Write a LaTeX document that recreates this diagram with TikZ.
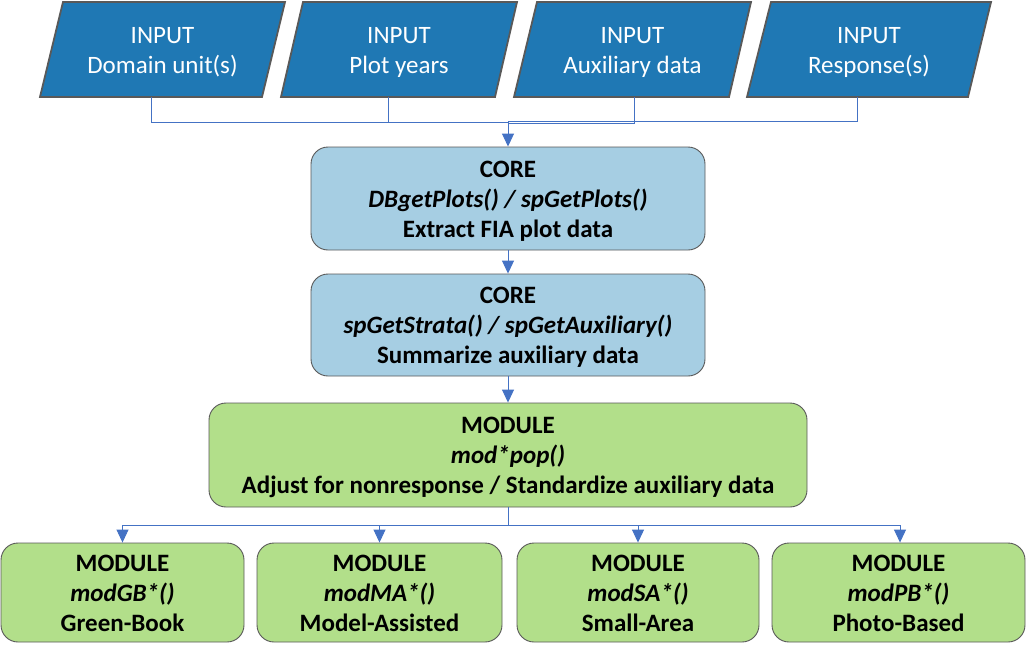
\documentclass[tikz,border=0pt]{standalone}
\usepackage{fontspec}
\setmainfont{Carlito}
\usetikzlibrary{arrows.meta}
\definecolor{inblue}{HTML}{1F78B4}
\definecolor{coreblue}{HTML}{A6CEE3}
\definecolor{modgreen}{HTML}{B2DF8A}
\definecolor{edgegray}{HTML}{595959}
\definecolor{connblue}{HTML}{4472C4}
\newcommand{\myTop}{\rule{0pt}{24.4pt}}
\newcommand{\myBot}{\rule[-7pt]{0pt}{0pt}}
\tikzset{
  inshape/.style={fill=inblue, draw=edgegray, line width=1.8pt, line join=miter},
  intext/.style={text=white, align=center, font=\fontsize{25}{30}\selectfont, inner sep=0pt},
  rbox/.style={draw=edgegray, line width=0.9pt, rounded corners=17pt, align=center,
    font=\fontsize{25}{30}\selectfont\bfseries, inner sep=0pt},
  corebox/.style={rbox, fill=coreblue},
  modbox/.style={rbox, fill=modgreen},
  conn/.style={draw=connblue, line width=1pt},
  arr/.style={conn, -{Triangle[width=12pt,length=13pt]}},
}
\begin{document}
\begin{tikzpicture}[x=1pt,y=-1pt]
\useasboundingbox (0,0) rectangle (1027,653);
% input parallelograms
\draw[inshape] (40,97) -- (262,97) -- (285,2) -- (63,2) -- cycle;
\draw[inshape] (281,97) -- (495,97) -- (517,2) -- (303,2) -- cycle;
\draw[inshape] (514,97) -- (729,97) -- (751,2) -- (537,2) -- cycle;
\draw[inshape] (747,97) -- (968,97) -- (991,2) -- (771,2) -- cycle;
\node[intext] (in1) at (162.5,49.5) {\myTop INPUT\\Domain unit(s)\myBot};
\node[intext] (in2) at (399,49.5) {\myTop INPUT\\Plot years\myBot};
\node[intext] (in3) at (632.5,49.5) {\myTop INPUT\\Auxiliary data\myBot};
\node[intext] (in4) at (869,49.5) {\myTop INPUT\\Response(s)\myBot};
\coordinate (in1b) at (151,97);
\coordinate (in2b) at (388,97);
\coordinate (in3b) at (634,97);
\coordinate (in4b) at (857.5,97);
% core boxes
\node[corebox, minimum width=394pt, minimum height=103pt] (core1) at (508,198.5)
  {\myTop CORE\\\textit{DBgetPlots() / spGetPlots()}\\Extract FIA plot data\myBot};
\node[corebox, minimum width=394pt, minimum height=102pt] (core2) at (508,325)
  {\myTop CORE\\\textit{spGetStrata() / spGetAuxiliary()}\\Summarize auxiliary data\myBot};
\node[modbox, minimum width=598pt, minimum height=104pt] (mod) at (508,455)
  {\myTop MODULE\\\textit{mod*pop()}\\Adjust for nonresponse / Standardize auxiliary data\myBot};
% bottom modules
\node[modbox, minimum width=243pt, minimum height=99pt] (gb) at (122.5,592.5)
  {\myTop MODULE\\\textit{modGB*()}\\Green-Book\myBot};
\node[modbox, minimum width=245pt, minimum height=99pt] (ma) at (379.5,592.5)
  {\myTop MODULE\\\textit{modMA*()}\\Model-Assisted\myBot};
\node[modbox, minimum width=242pt, minimum height=99pt] (sa) at (638,592.5)
  {\myTop MODULE\\\textit{modSA*()}\\Small-Area\myBot};
\node[modbox, minimum width=253pt, minimum height=99pt] (pb) at (898.5,592.5)
  {\myTop MODULE\\\textit{modPB*()}\\Photo-Based\myBot};
% connectors top
\coordinate (j1a) at (508,122.7);
\coordinate (j1b) at (508,122.3);
\coordinate (j1c) at (508,123.3);
\coordinate (j1d) at (508,121.7);
\draw[conn] (in1b) |- (j1a);
\draw[conn] (in2b) |- (j1b);
\draw[conn] (in3b) |- (j1c);
\draw[conn] (in4b) |- (j1d);
\draw[arr] (j1b) -- (core1.north);
\draw[arr] (core1.south) -- (core2.north);
\draw[arr] (core2.south) -- (mod.north);
% connectors bottom
\coordinate (j2) at (508,525);
\draw[conn] (mod.south) -- (j2);
\draw[arr] (j2) -| (gb.north);
\draw[arr] (j2) -| (ma.north);
\draw[arr] (j2) -| (sa.north);
\draw[arr] (j2) -| (pb.north -| 900,0);
\end{tikzpicture}
\end{document}
